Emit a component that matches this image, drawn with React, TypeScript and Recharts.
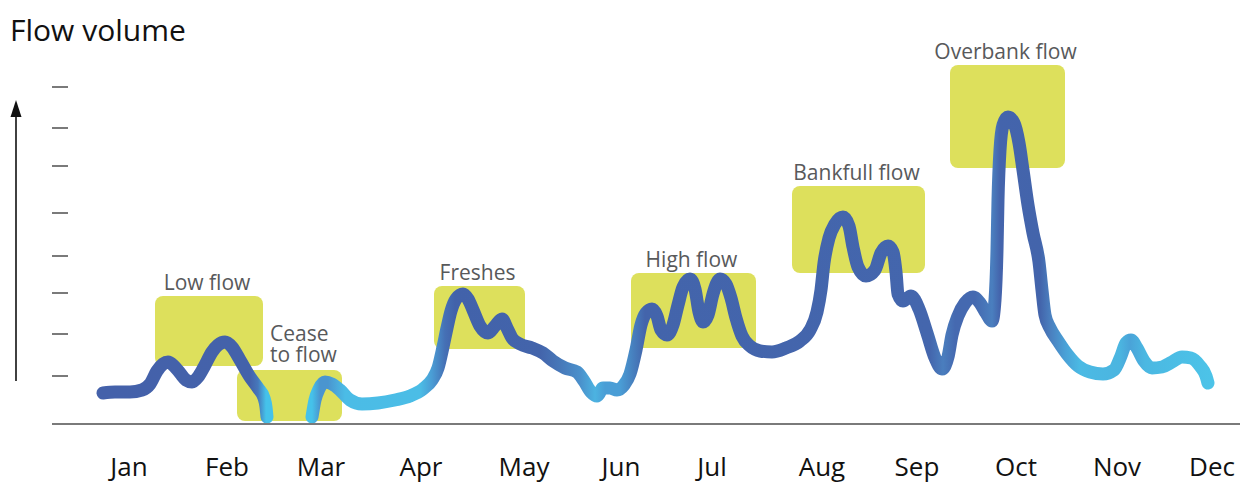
import React from 'react';
import { LineChart, Line, XAxis, YAxis, ReferenceArea } from 'recharts';

// ---- data ----
const MONTHS = ['Jan', 'Feb', 'Mar', 'Apr', 'May', 'Jun', 'Jul', 'Aug', 'Sep', 'Oct', 'Nov', 'Dec'];
const MONTH_T = [77, 175, 269, 369, 472, 569, 660, 770, 865, 964, 1065, 1160];
const Y_TICKS = [48, 90, 131, 168, 211, 258, 296, 337];

const FLOW_T = [
  51, 63, 78, 90, 98, 105, 111, 116, 122, 128, 134, 140, 146, 152, 160, 166, 173, 180, 188, 198, 206, 212, 214, 215,
  238,
  260, 263, 267, 273, 280, 288, 298, 310, 326, 343, 358, 371, 380, 386, 391, 395, 399, 404, 411, 416, 421, 428, 436,
  443, 450, 455, 460, 468, 480, 491, 501, 513, 525, 532, 539, 545, 551, 558, 565, 572, 578, 584, 589, 594, 600, 605,
  609, 615, 621, 626, 631, 638, 643, 647, 651, 656, 661, 668, 674, 679, 684, 690, 698, 708, 720, 734, 748, 758, 765,
  769, 772, 777, 783, 791, 797, 801, 806, 814, 823, 829, 836, 841, 844, 846, 851, 859, 867, 875, 883, 890, 896, 900,
  906, 913, 921, 928, 934, 940, 943, 945, 946, 948, 951, 956, 962, 967, 971, 976, 981, 987, 990, 993, 998, 1006, 1015,
  1026, 1038, 1051, 1062, 1069, 1074, 1079, 1085, 1092, 1100, 1110, 1120, 1130, 1139, 1148, 1154, 1156,
];
const FLOW_V: (number | null)[] = [
  31, 32, 32, 34, 40, 53, 60, 62, 58, 51, 44, 42, 47, 57, 72, 79, 82, 77, 64, 47, 36, 26, 17, 7,
  null,
  7, 24, 35, 42, 40, 34, 24, 20, 21, 24, 28, 35, 44, 56, 77, 96, 113, 125, 130, 125, 114, 98, 91,
  98, 105, 96, 86, 80, 76, 71, 63, 56, 52, 43, 32, 28, 36, 36, 34, 39, 50, 74, 99, 111, 115, 108,
  94, 89, 99, 119, 137, 145, 135, 112, 102, 109, 130, 145, 140, 126, 106, 88, 78, 73, 72, 76, 83, 94, 112,
  134, 161, 186, 200, 207, 198, 177, 157, 148, 154, 171, 178, 172, 152, 130, 123, 128, 115, 91, 66, 55, 67, 89,
  108, 121, 127, 121, 111, 103, 124, 174, 224, 274, 299, 307, 301, 281, 254, 219, 191, 162, 134, 109, 96, 83, 70,
  58, 52, 50, 54, 68, 81, 84, 76, 63, 56, 57, 62, 67, 66, 58, 48, 41,
];

const ZONES = [
  { name: ['Low flow'], from: 103, to: 211, low: 58, high: 128 },
  { name: ['Cease', 'to flow'], from: 185, to: 290, low: 3, high: 54 },
  { name: ['Freshes'], from: 382, to: 473, low: 75, high: 138 },
  { name: ['High flow'], from: 579, to: 704, low: 76, high: 151 },
  { name: ['Bankfull flow'], from: 740, to: 873, low: 151, high: 238 },
  { name: ['Overbank flow'], from: 898, to: 1013, low: 256, high: 359 },
];

const chartData = FLOW_T.map((t, i) => ({ t, v: FLOW_V[i] }));

// ---- style ----
const FONT = '"Open Sans", "Noto Sans", sans-serif';
const W = 1249;
const H = 484;
const GRAD_STOPS: [number, string][] = [
  [100, '#4461aa'], [250, '#4462aa'], [258, '#4678bb'], [266, '#45c2ea'], [312, '#45c2ea'],
  [320, '#4a95cf'], [328, '#4a95cf'], [345, '#4bbce6'], [420, '#4bbde6'], [432, '#4a9cd4'],
  [445, '#4570b5'], [455, '#4262aa'], [540, '#4364ab'], [560, '#4778b9'], [580, '#4a90cb'],
  [595, '#4cb3e1'], [605, '#4a9ed6'], [620, '#4a9ed6'], [632, '#4782c0'], [645, '#4364ab'],
  [930, '#4466ad'], [943, '#4a7ebe'], [955, '#4569b0'], [975, '#4569b0'], [992, '#4a7fbf'],
  [1000, '#4464ac'], [1040, '#4364ab'], [1050, '#4a7ebe'], [1065, '#4aa0d6'], [1080, '#4bbae4'],
  [1120, '#4bb5e0'], [1130, '#4aa3d8'], [1145, '#4bb8e2'], [1210, '#4cc3e8'],
];

const ZoneLabel = (lines: string[]) => (props: any) => {
  const vb = props.viewBox || {};
  const multi = lines.length > 1;
  const style = { fontFamily: FONT, fontSize: 21, fill: '#58595b' };
  if (multi) {
    const lh = 21;
    return (
      <text x={vb.x + 33} y={vb.y - 8 - lh * (lines.length - 1)} textAnchor="start" style={style}>
        {lines.map((l, i) => (
          <tspan key={i} x={vb.x + 33} dy={i === 0 ? 0 : lh}>{l}</tspan>
        ))}
      </text>
    );
  }
  return (
    <text x={vb.x + vb.width / 2 - 2} y={vb.y - 6} textAnchor="middle" style={style}>
      {lines[0]}
    </text>
  );
};

export default function App() {
  return (
    <div style={{ position: 'absolute', left: 0, top: 0, width: W, height: H, background: '#fff' }}>
      <svg width={0} height={0} style={{ position: 'absolute' }}>
        <defs>
          <linearGradient id="flowGrad" gradientUnits="userSpaceOnUse" x1={0} y1={0} x2={W} y2={0}>
            {GRAD_STOPS.map(([px, c], i) => (
              <stop key={i} offset={px / W} stopColor={c} />
            ))}
          </linearGradient>
        </defs>
      </svg>
      <LineChart width={W} height={H} data={chartData} margin={{ top: 24, right: 9, bottom: 0, left: 52 }}>
        <XAxis
          dataKey="t"
          type="number"
          domain={[0, 1188]}
          ticks={MONTH_T}
          interval={0}
          tickFormatter={(v: number) => MONTHS[MONTH_T.indexOf(v)]}
          tickLine={false}
          axisLine={{ stroke: '#7a7a7a', strokeWidth: 2 }}
          tick={{ fill: '#111', fontSize: 26, fontFamily: FONT }}
          tickMargin={28}
          height={60}
          allowDataOverflow
        />
        <YAxis
          type="number"
          domain={[0, 400]}
          ticks={Y_TICKS}
          interval={0}
          mirror
          width={1}
          axisLine={false}
          tickSize={16}
          tickLine={{ stroke: '#7a7a7a', strokeWidth: 2 }}
          tickFormatter={() => ''}
          allowDataOverflow
        />
        {ZONES.map((z, i) => (
          <ReferenceArea
            key={i}
            x1={z.from}
            x2={z.to}
            y1={z.low}
            y2={z.high}
            fill="#dde05c"
            fillOpacity={1}
            stroke="none"
            radius={8}
            ifOverflow="visible"
            label={ZoneLabel(z.name)}
          />
        ))}
        <Line
          type="monotone"
          dataKey="v"
          stroke="url(#flowGrad)"
          strokeWidth={13}
          strokeLinecap="round"
          strokeLinejoin="round"
          dot={false}
          activeDot={false}
          connectNulls={false}
          isAnimationActive={false}
        />
      </LineChart>
      <svg width={W} height={H} style={{ position: 'absolute', left: 0, top: 0, pointerEvents: 'none' }}>
        <text x={10} y={41} style={{ fontFamily: FONT, fontSize: 30, fill: '#111' }}>Flow volume</text>
        <line x1={16} y1={381} x2={16} y2={112} stroke="#111" strokeWidth={1.6} />
        <polygon points="16,100 10.5,117 21.5,117" fill="#111" />
      </svg>
    </div>
  );
}
